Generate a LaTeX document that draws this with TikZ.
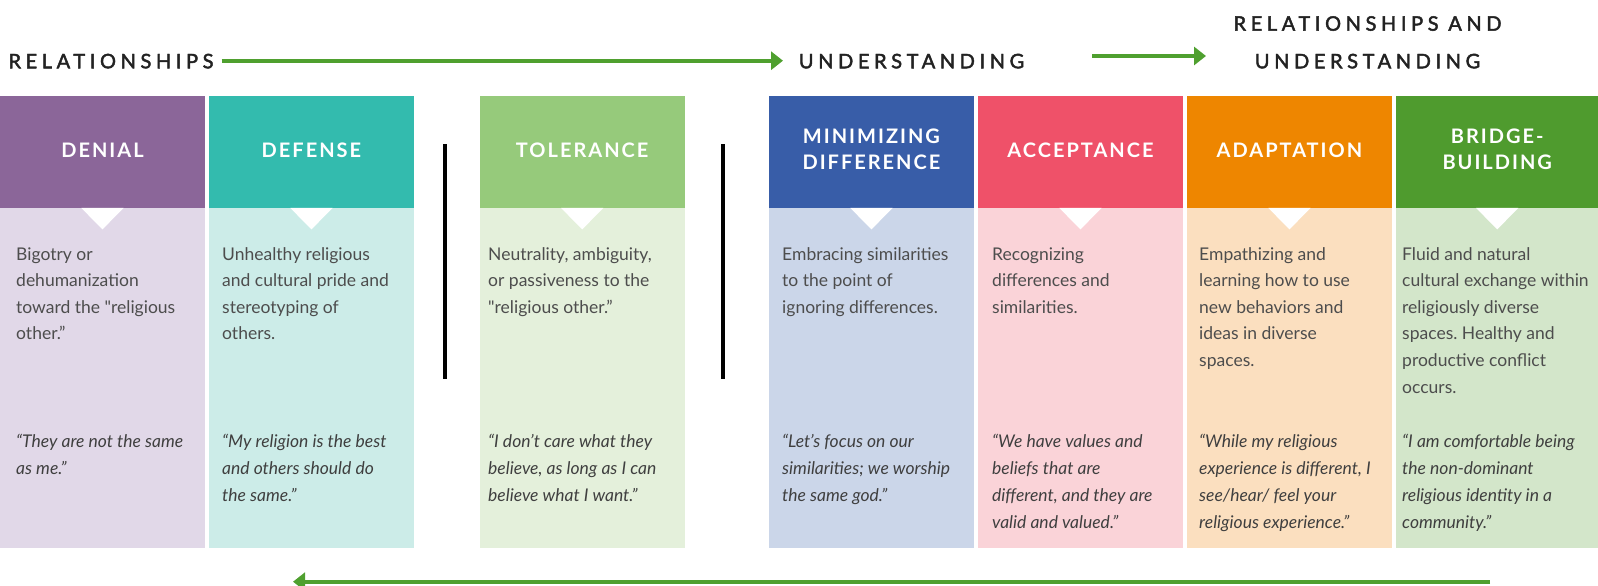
\documentclass[tikz,border=0pt]{standalone}
\usepackage{fontspec}
\setmainfont{Lato}
\newfontfamily\hdrfont{Lato}[LetterSpace=10]
\newfontfamily\lblfont{Lato}[LetterSpace=23,FakeBold=2.2]
\usetikzlibrary{arrows.meta,calc}
\definecolor{denH}{HTML}{8B6699}\definecolor{denB}{HTML}{E1D8E8}
\definecolor{defH}{HTML}{33BBAE}\definecolor{defB}{HTML}{CCECE8}
\definecolor{tolH}{HTML}{96CA7B}\definecolor{tolB}{HTML}{E4F0DB}
\definecolor{minH}{HTML}{385DA8}\definecolor{minB}{HTML}{CBD6E9}
\definecolor{accH}{HTML}{EF5169}\definecolor{accB}{HTML}{FAD3D8}
\definecolor{adaH}{HTML}{EE8600}\definecolor{adaB}{HTML}{FBDFBF}
\definecolor{briH}{HTML}{4F9B2E}\definecolor{briB}{HTML}{D3E6CA}
\definecolor{arrowgreen}{HTML}{4FA02F}
\definecolor{bodygray}{HTML}{4D4D4D}
\definecolor{quotegray}{HTML}{3F3F3F}
\definecolor{lblgray}{HTML}{222222}
\newcommand{\txtlines}[1]{\parbox[t]{205pt}{\raggedright\frenchspacing #1}}
\newcommand{\hdrlines}[1]{\parbox[t]{200pt}{\centering #1}}
\begin{document}
\begin{tikzpicture}[x=1pt,y=-1pt,
  hdrbox/.style={rectangle,inner sep=0pt,draw=none,minimum height=111.5pt},
  bodybox/.style={rectangle,inner sep=0pt,draw=none,minimum height=340.5pt},
  hdrtxt/.style={anchor=base,inner sep=0pt,text=white,font=\hdrfont\bfseries\fontsize{20}{26}\selectfont},
  bodytxt/.style={anchor=base west,inner sep=0pt,text=bodygray,font=\fontsize{17.5}{26.6}\selectfont},
  quotetxt/.style={anchor=base west,inner sep=0pt,text=quotegray,font=\itshape\fontsize{17.5}{27.3}\selectfont},
  lbl/.style={anchor=base west,inner sep=0pt,text=lblgray,font=\lblfont\fontsize{20}{26}\selectfont},
  garrow/.style={draw=arrowgreen,line width=4pt,-{Triangle[length=12pt,width=18pt]}},
  sepline/.style={draw=black,line width=4pt}]
\useasboundingbox[fill=white] (0,0) rectangle (1598,586);

% columns
\foreach \n/\x/\w/\hc/\bc in {1/0/204.5/denH/denB,2/209/204.5/defH/defB,3/479.5/205/tolH/tolB,
  4/769/204.5/minH/minB,5/978/204.5/accH/accB,6/1187/204.5/adaH/adaB,7/1396/202/briH/briB}{
  \node[hdrbox,fill=\hc,minimum width=\w pt,anchor=north west] (h\n) at (\x,96) {};
  \node[bodybox,fill=\bc,minimum width=\w pt,anchor=north west] (b\n) at (\x,207.5) {};
  \fill[white] ($(h\n.south)+(-21.2,0)$) -- ($(h\n.south)+(21.2,0)$) -- ($(h\n.south)+(0,21.5)$) -- cycle;
}

% header texts
\node[hdrtxt] (ht1) at (h1.center |- 0,157) {DENIAL};
\node[hdrtxt] (ht2) at (h2.center |- 0,157) {DEFENSE};
\node[hdrtxt] (ht3) at (h3.center |- 0,157) {TOLERANCE};
\node[hdrtxt] (ht4) at (h4.center |- 0,143.3) {\hdrlines{MINIMIZING\\DIFFERENCE}};
\node[hdrtxt] (ht5) at (h5.center |- 0,157) {ACCEPTANCE};
\node[hdrtxt] (ht6) at (h6.center |- 0,157) {ADAPTATION};
\node[hdrtxt] (ht7) at (h7.center |- 0,143.3) {\hdrlines{BRIDGE-\\BUILDING}};

% body texts
\node[bodytxt] (d1) at (16,260) {\txtlines{Bigotry or\\dehumanization\\toward the \textquotedbl religious\\other.”}};
\node[bodytxt] (d2) at (222,260) {\txtlines{Unhealthy religious\\and cultural pride and\\stereotyping of\\others.}};
\node[bodytxt] (d3) at (488,260) {\txtlines{Neutrality, ambiguity,\\or passiveness to the\\\textquotedbl religious other.”}};
\node[bodytxt] (d4) at (782,260) {\txtlines{Embracing similarities\\to the point of\\ignoring differences.}};
\node[bodytxt] (d5) at (992,260) {\txtlines{Recognizing\\differences and\\similarities.}};
\node[bodytxt] (d6) at (1199,260) {\txtlines{Empathizing and\\learning how to use\\new behaviors and\\ideas in diverse\\spaces.}};
\node[bodytxt] (d7) at (1402,260) {\txtlines{Fluid and natural\\cultural exchange within\\religiously diverse\\spaces. Healthy and\\productive conflict\\occurs.}};

% quotes
\node[quotetxt] (q1) at (16,447) {\txtlines{“They are not the same\\as me.”}};
\node[quotetxt] (q2) at (222,447) {\txtlines{“My religion is the best\\and others should do\\the same.”}};
\node[quotetxt] (q3) at (488,447) {\txtlines{“I don’t care what they\\believe, as long as I can\\believe what I want.”}};
\node[quotetxt] (q4) at (782,447) {\txtlines{“Let’s focus on our\\similarities; we worship\\the same god.”}};
\node[quotetxt] (q5) at (992,447) {\txtlines{“We have values and\\beliefs that are\\different, and they are\\valid and valued.”}};
\node[quotetxt] (q6) at (1199,447) {\txtlines{“While my religious\\experience is different, I\\see/hear/ feel your\\religious experience.”}};
\node[quotetxt] (q7) at (1402,447) {\txtlines{“I am comfortable being\\the non-dominant\\religious identity in a\\community.”}};

% top labels
\node[lbl] (rel) at (8.3,68.3) {RELATIONSHIPS};
\node[lbl] (und) at (798.7,68.3) {UNDERSTANDING};
\node[lbl,anchor=base] (rau1) at (1367.5,30.7) {RELATIONSHIPS AND};
\node[lbl,anchor=base] (rau2) at (1367.5,68.3) {UNDERSTANDING};

% separators
\coordinate (s1t) at (445,144); \coordinate (s1b) at (445,379);
\coordinate (s2t) at (723,144); \coordinate (s2b) at (723,379);
\draw[sepline] (s1t) -- (s1b);
\draw[sepline] (s2t) -- (s2b);

% arrows
\coordinate (a1s) at (221.7,60.7); \coordinate (a1e) at (783,60.7);
\coordinate (a2s) at (1092,56); \coordinate (a2e) at (1206,56);
\coordinate (a3s) at (1490,581.7); \coordinate (a3e) at (293,581.7);
\draw[garrow] (a1s) -- (a1e);
\draw[garrow] (a2s) -- (a2e);
\draw[garrow] (a3s) -- (a3e);
\end{tikzpicture}
\end{document}
